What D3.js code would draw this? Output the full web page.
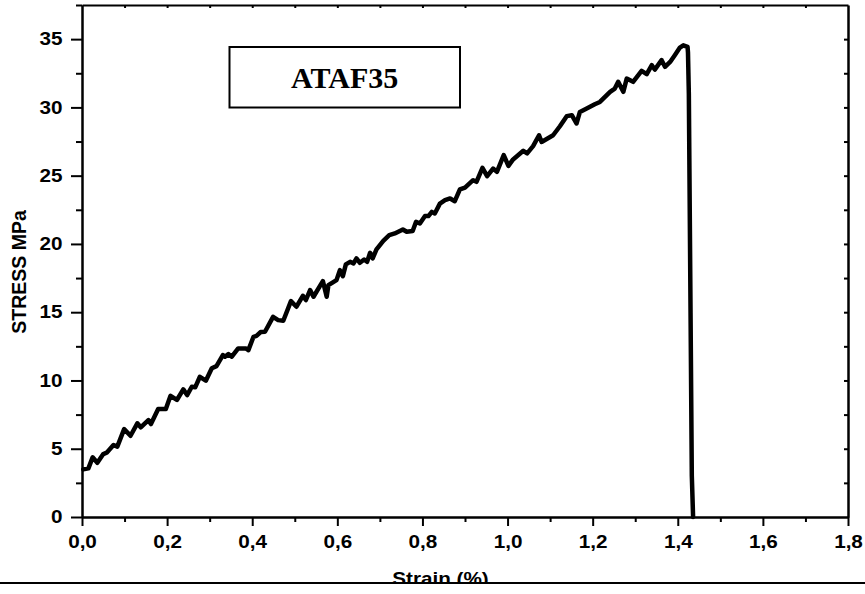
<!DOCTYPE html>
<html>
<head>
<meta charset="utf-8">
<script src="https://cdn.jsdelivr.net/npm/d3@7/dist/d3.min.js"></script>
<style>
  html, body { margin: 0; padding: 0; background: #fff; }
  svg { display: block; }
  .tick text { font-family: "Liberation Sans", Arial, sans-serif; font-weight: bold; font-size: 18px; fill: #000; }
</style>
</head>
<body>
<svg id="chart" width="865" height="594"></svg>
<script>
// Tensile test ATAF35: strain (%) vs stress (MPa)
const strain = [0.003, 0.015, 0.025, 0.036, 0.050, 0.058, 0.074, 0.083, 0.099, 0.114, 0.130, 0.138, 0.156, 0.162,
  0.179, 0.197, 0.208, 0.223, 0.238, 0.247, 0.258, 0.266, 0.277, 0.291, 0.305, 0.316, 0.331, 0.336, 0.344, 0.352,
  0.367, 0.385, 0.391, 0.403, 0.410, 0.420, 0.430, 0.449, 0.461, 0.473, 0.491, 0.504, 0.519, 0.526, 0.536, 0.544,
  0.566, 0.575, 0.579, 0.598, 0.606, 0.613, 0.620, 0.630, 0.638, 0.645, 0.653, 0.663, 0.670, 0.677, 0.683, 0.692,
  0.708, 0.722, 0.735, 0.754, 0.763, 0.777, 0.785, 0.794, 0.806, 0.814, 0.822, 0.829, 0.841, 0.853, 0.865, 0.876,
  0.888, 0.900, 0.919, 0.927, 0.941, 0.952, 0.966, 0.975, 0.991, 1.002, 1.013, 1.037, 1.046, 1.060, 1.074, 1.080,
  1.090, 1.107, 1.123, 1.139, 1.151, 1.162, 1.170, 1.186, 1.205, 1.217, 1.229, 1.241, 1.252, 1.260, 1.272, 1.280,
  1.295, 1.315, 1.327, 1.339, 1.346, 1.362, 1.370, 1.382, 1.393, 1.405, 1.413, 1.423, 1.424, 1.426, 1.430, 1.433, 1.436];
const stress = [3.49, 3.56, 4.37, 3.97, 4.61, 4.71, 5.27, 5.15, 6.44, 5.95, 6.86, 6.57, 7.10, 6.81,
  7.91, 7.91, 8.88, 8.57, 9.35, 8.93, 9.54, 9.50, 10.27, 9.98, 10.89, 11.05, 11.86, 11.74, 11.93, 11.74,
  12.35, 12.35, 12.22, 13.20, 13.27, 13.55, 13.57, 14.66, 14.42, 14.37, 15.81, 15.40, 16.20, 15.89, 16.62, 16.13,
  17.28, 16.13, 16.98, 17.35, 18.08, 17.64, 18.50, 18.69, 18.57, 18.94, 18.62, 18.86, 18.69, 19.35, 18.94, 19.60,
  20.23, 20.64, 20.77, 21.06, 20.89, 20.94, 21.62, 21.50, 22.04, 22.04, 22.35, 22.23, 22.95, 23.20, 23.33, 23.13,
  23.99, 24.13, 24.67, 24.55, 25.57, 24.96, 25.52, 25.28, 26.50, 25.72, 26.19, 26.82, 26.63, 27.16, 27.96, 27.47,
  27.65, 27.96, 28.62, 29.36, 29.43, 28.82, 29.67, 29.92, 30.23, 30.40, 30.77, 31.14, 31.38, 31.87, 31.14, 32.11,
  31.87, 32.67, 32.43, 33.09, 32.77, 33.46, 32.97, 33.33, 33.82, 34.38, 34.55, 34.43, 34.00, 31.00, 15.00, 3.00, 0.00];

const xMajor = [0, 0.2, 0.4, 0.6, 0.8, 1.0, 1.2, 1.4, 1.6, 1.8];
const xMinor = [0.1, 0.3, 0.5, 0.7, 0.9, 1.1, 1.3, 1.5, 1.7];
const yMajor = [0, 5, 10, 15, 20, 25, 30, 35];
const yMinor = [2.5, 7.5, 12.5, 17.5, 22.5, 27.5, 32.5, 37.5];

const svg = d3.select("#chart");
const plotLeft = 82, plotRight = 848, plotTop = 5, plotBottom = 517;

const x = d3.scaleLinear().domain([0, 1.8]).range([plotLeft, plotRight]);
const y = d3.scaleLinear().domain([0, 37.5]).range([plotBottom, plotTop]);

const comma = d => d3.format(".1f")(d).replace(".", ",");

function styleAxis(g, width) {
  g.selectAll(".domain").attr("stroke", "#000").attr("stroke-width", width);
  g.selectAll(".tick line").attr("stroke", "#000").attr("stroke-width", 2);
}

// bottom axis
const gxMinor = svg.append("g").attr("transform", `translate(0,${plotBottom})`)
  .call(d3.axisBottom(x).tickValues(xMinor).tickSize(5).tickSizeOuter(0).tickFormat(""));
styleAxis(gxMinor, 2);
const gx = svg.append("g").attr("transform", `translate(0,${plotBottom})`)
  .call(d3.axisBottom(x).tickValues(xMajor).tickSize(9).tickSizeOuter(0).tickPadding(9).tickFormat(comma));
styleAxis(gx, 2);
gx.selectAll(".tick text").attr("transform", "scale(1.15,1)");

// left axis
const gyMinor = svg.append("g").attr("transform", `translate(${plotLeft},0)`)
  .call(d3.axisLeft(y).tickValues(yMinor).tickSize(6).tickSizeOuter(0).tickFormat(""));
styleAxis(gyMinor, 2);
const gy = svg.append("g").attr("transform", `translate(${plotLeft},0)`)
  .call(d3.axisLeft(y).tickValues(yMajor).tickSize(11).tickSizeOuter(0).tickPadding(6).tickFormat(d3.format("d")));
styleAxis(gy, 2);
gy.selectAll(".tick text").attr("transform", "scale(1.15,1)");

// top and right frame with small inward ticks
const gTop = svg.append("g").attr("transform", `translate(0,${plotTop})`)
  .call(d3.axisTop(x).tickValues(xMinor.concat(xMajor.slice(1, -1))).tickSize(-3).tickSizeOuter(0).tickFormat(""));
styleAxis(gTop, 2);
const gRight = svg.append("g").attr("transform", `translate(${plotRight},0)`)
  .call(d3.axisRight(y).tickValues(yMajor.slice(1).concat(yMinor.slice(0, -1))).tickSize(-4).tickSizeOuter(0).tickFormat(""));
styleAxis(gRight, 2.5);

// stress-strain curve
const line = d3.line().x((d, i) => x(strain[i])).y(d => y(d)).curve(d3.curveLinear);
svg.append("path")
  .datum(stress)
  .attr("d", line)
  .attr("fill", "none")
  .attr("stroke", "#000")
  .attr("stroke-width", 4.5)
  .attr("stroke-linejoin", "round")
  .attr("stroke-linecap", "round");

// sample label box
svg.append("rect")
  .attr("x", 229.5).attr("y", 47).attr("width", 230.5).attr("height", 60.5)
  .attr("fill", "#fff").attr("stroke", "#000").attr("stroke-width", 2);
svg.append("text")
  .attr("x", 344.7).attr("y", 87.5)
  .attr("text-anchor", "middle")
  .attr("font-family", "'Liberation Serif', 'Times New Roman', serif")
  .attr("font-weight", "bold")
  .attr("font-size", 30)
  .text("ATAF35");

// axis titles
svg.append("text")
  .attr("transform", "translate(26,272) rotate(-90)")
  .attr("text-anchor", "middle")
  .attr("font-family", "'Liberation Sans', Arial, sans-serif")
  .attr("font-weight", "bold")
  .attr("font-size", 19.5)
  .text("STRESS MPa");

svg.append("text")
  .attr("transform", "translate(440.5,584.5) scale(1.15,1)")
  .attr("text-anchor", "middle")
  .attr("font-family", "'Liberation Sans', Arial, sans-serif")
  .attr("font-weight", "bold")
  .attr("font-size", 18)
  .text("Strain (%)");

// lower edge rule
svg.append("rect").attr("x", 0).attr("y", 582).attr("width", 865).attr("height", 12).attr("fill", "#fff");
svg.append("line").attr("x1", 0).attr("x2", 865).attr("y1", 583).attr("y2", 583)
  .attr("stroke", "#000").attr("stroke-width", 2);
</script>
</body>
</html>
